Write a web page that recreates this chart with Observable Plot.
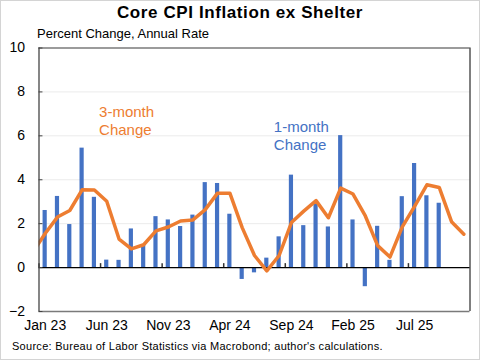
<!DOCTYPE html>
<html>
<head>
<meta charset="utf-8">
<script src="https://cdn.jsdelivr.net/npm/d3@7"></script>
<script src="https://cdn.jsdelivr.net/npm/@observablehq/plot@0.6"></script>
<style>
  body { margin: 0; background: #fff; }
  #c { position: relative; width: 480px; height: 360px; outline: 1px solid #d4d4d4; outline-offset: -1px; background: #fff; font-family: "Liberation Sans", Arial, sans-serif; color: #000; }
  #title { position: absolute; top: 4px; left: 0; width: 480px; text-align: center; font: bold 17px/17px "Liberation Sans", Arial, sans-serif; letter-spacing: 0.6px; }
  #sub { position: absolute; top: 27px; left: 37px; font: 13px/13px "Liberation Sans", Arial, sans-serif; white-space: nowrap; }
  #chart { position: absolute; top: 40px; left: 0; }
  #cap { position: absolute; top: 341px; left: 12px; font: 11px/11px "Liberation Sans", Arial, sans-serif; letter-spacing: 0.28px; white-space: nowrap; }
</style>
</head>
<body>
<div id="c">
  <div id="title">Core CPI Inflation ex Shelter</div>
  <div id="sub">Percent Change, Annual Rate</div>
  <div id="chart"></div>
  <div id="cap">Source: Bureau of Labor Statistics via Macrobond; author's calculations.</div>
</div>
<script>
const months = ["Dec 22",
  "Jan 23","Feb 23","Mar 23","Apr 23","May 23","Jun 23","Jul 23","Aug 23","Sep 23","Oct 23","Nov 23","Dec 23",
  "Jan 24","Feb 24","Mar 24","Apr 24","May 24","Jun 24","Jul 24","Aug 24","Sep 24","Oct 24","Nov 24","Dec 24",
  "Jan 25","Feb 25","Mar 25","Apr 25","May 25","Jun 25","Jul 25","Aug 25","Sep 25","Oct 25","Nov 25"];
const oneMonth = [null,
  2.60, 3.24, 1.96, 5.44, 3.20, 0.34, 0.33, 1.76, 1.00, 2.32, 2.17, 1.87,
  2.39, 3.87, 3.83, 2.43, -0.54, -0.24, 0.43, 1.40, 4.21, 1.91, 2.90, 1.85,
  6.01, 2.17, -0.87, 1.88, 0.33, 3.23, 4.74, 3.27, 2.93, null, null];
const threeMonth = [0.70,
  1.55, 2.30, 2.60, 3.54, 3.53, 3.02, 1.30, 0.85, 1.04, 1.67, 1.85, 2.12,
  2.17, 2.64, 3.39, 3.39, 1.82, 0.55, -0.15, 0.55, 2.05, 2.57, 3.05, 2.27,
  3.62, 3.35, 2.35, 1.00, 0.48, 1.85, 2.79, 3.77, 3.65, 2.09, 1.52];
const tickLabels = ["Jan 23","Jun 23","Nov 23","Apr 24","Sep 24","Feb 25","Jul 25"];
const yTicks = [-2, 0, 2, 4, 6, 8, 10];
const gridValues = [2, 4, 6, 8];
const annotations = [
  {label: "3-month\nChange", month: "May 23", offset: 0.38, value: 6.73, color: "#ED7D31"},
  {label: "1-month\nChange", month: "Aug 24", offset: -0.43, value: 6.04, color: "#4472C4"}
];

const rows = months.map((m, k) => ({m, i: k - 1, one: oneMonth[k], three: threeMonth[k]}));
const xTickPos = tickLabels.map(l => months.indexOf(l) - 1);
const ann = annotations.map(a => ({...a, i: months.indexOf(a.month) - 1 + a.offset}));

const chart = Plot.plot({
  width: 480,
  height: 300,
  marginLeft: 38.5,
  marginRight: 10.5,
  marginTop: 7.5,
  marginBottom: 29,
  x: {type: "linear", domain: [-0.5, 34.5]},
  y: {domain: [-2, 10]},
  style: {fontFamily: "'Liberation Sans', Arial, sans-serif", fontSize: "14px", color: "#000", background: "transparent"},
  marks: [
    Plot.ruleY(gridValues, {stroke: "#ebebeb", strokeWidth: 1}),
    Plot.rectY(rows.filter(d => d.one != null), {x1: d => d.i - 0.17, x2: d => d.i + 0.17, y1: 0, y2: "one", fill: "#4472C4"}),
    Plot.ruleY([0], {stroke: "#000", strokeWidth: 1.2}),
    Plot.ruleX(xTickPos, {x: d => d - 0.5, y1: 0, y2: 0.18, stroke: "#333", strokeWidth: 1.5}),
    Plot.line(rows, {x: "i", y: "three", stroke: "#ED7D31", strokeWidth: 3.5, strokeLinejoin: "round", clip: true}),
    Plot.ruleY([10, -2], {stroke: "#7a7a7a", strokeWidth: 1.5}),
    Plot.ruleX([-0.5], {stroke: "#444", strokeWidth: 1.3}),
    Plot.ruleX([34.5], {stroke: "#000", strokeWidth: 1}),
    Plot.ruleY(yTicks, {x1: -0.5, x2: -0.18, stroke: "#444", strokeWidth: 1}),
    Plot.axisY(yTicks, {tickSize: 0, tickPadding: 14, fontSize: 14, label: null}),
    Plot.axisX(xTickPos, {tickSize: 0, tickPadding: 9, fontSize: 14, label: null, tickFormat: d => months[d + 1]}),
    Plot.text(ann, {x: "i", y: "value", text: "label", fill: "color", textAnchor: "start", fontSize: 15, lineHeight: 1.2})
  ]
});
document.getElementById("chart").appendChild(chart);
</script>
</body>
</html>
